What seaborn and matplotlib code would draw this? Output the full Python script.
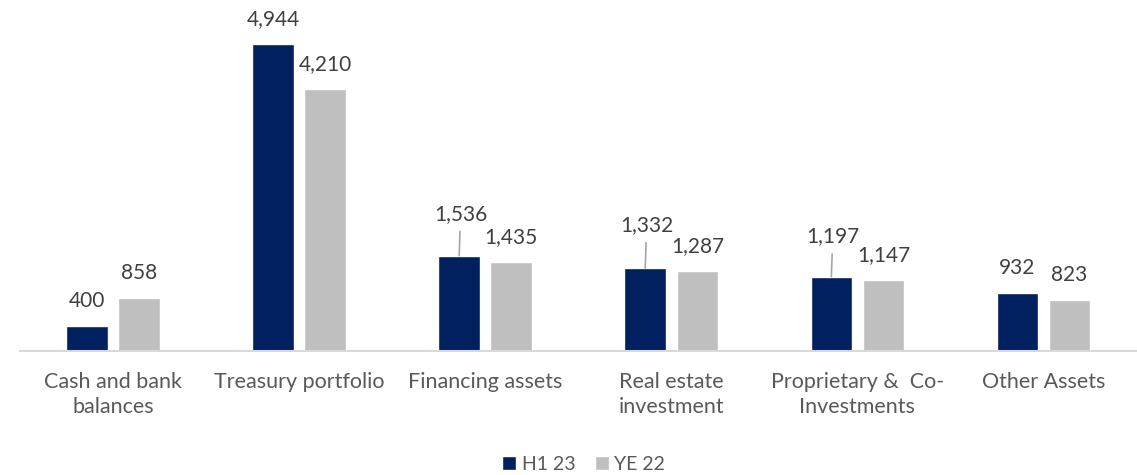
import numpy as np
import matplotlib.pyplot as plt
import pandas as pd
import seaborn as sns

categories = ['Cash and bank\nbalances', 'Treasury portfolio', 'Financing assets',
              'Real estate\ninvestment', 'Proprietary &  Co-\nInvestments', 'Other Assets']
h1_23 = [400, 4944, 1536, 1332, 1197, 932]
ye_22 = [858, 4210, 1435, 1287, 1147, 823]
series = ['H1 23', 'YE 22']

df = pd.DataFrame({
    'category': categories * 2,
    'value': h1_23 + ye_22,
    'period': [series[0]] * len(categories) + [series[1]] * len(categories),
})

sns.set_style('white')
plt.rcParams['font.family'] = ['Lato', 'DejaVu Sans']

fig = plt.figure(figsize=(11.37, 4.75), dpi=100)
ax = fig.add_axes([0.0176, 0.261, 0.982, 0.739])

sns.barplot(data=df, x='category', y='value', hue='period', ax=ax,
            palette=['#002060', '#BFBFBF'], width=0.56, gap=0.2,
            saturation=1, legend=True)

ax.set_ylim(0, 5650)
ax.set_xlim(-0.5, len(categories) - 0.5)
ax.set_yticks([])
ax.set_xlabel('')
ax.set_ylabel('')
for s in ['top', 'right', 'left']:
    ax.spines[s].set_visible(False)
ax.spines['bottom'].set_color('#D9D9D9')
ax.spines['bottom'].set_linewidth(1.5)
ax.tick_params(axis='x', length=0, pad=15, labelsize=15.5, labelcolor='#595959')
for lab in ax.get_xticklabels():
    lab.set_linespacing(1.3)

# labels raised with a leader line (first series)
leader = {2: 30, 3: 31, 4: 29}

for si, cont in enumerate(ax.containers):
    for ci, bar in enumerate(cont):
        x = bar.get_x() + bar.get_width() / 2
        h = bar.get_height()
        txt = f'{h:,.0f}'
        if si == 0 and ci in leader:
            ax.annotate(txt, xy=(x, h), xytext=(1, leader[ci]), textcoords='offset points',
                        ha='center', va='center', fontsize=15, color='#404040',
                        arrowprops=dict(arrowstyle='-', color='#A6A6A6', lw=1.2,
                                        shrinkA=3, shrinkB=0))
        else:
            ax.annotate(txt, xy=(x, h), xytext=(0, 18), textcoords='offset points',
                        ha='center', va='center', fontsize=15, color='#404040')

leg = ax.legend(loc='center', bbox_to_anchor=(0.505, -0.322), ncol=2, frameon=False,
                fontsize=14, handlelength=0.7, handleheight=0.7, handletextpad=0.3,
                columnspacing=1.0)
for t in leg.get_texts():
    t.set_color('#595959')

fig.savefig('out.png', dpi=100)
